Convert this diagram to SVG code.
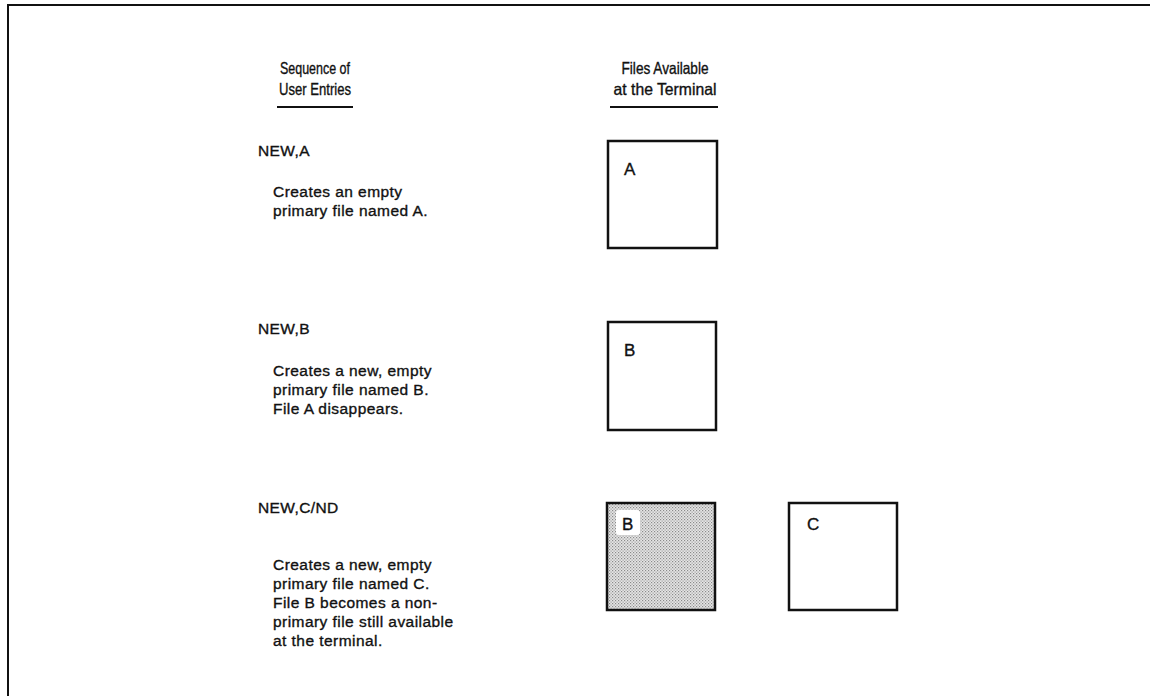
<svg xmlns="http://www.w3.org/2000/svg" width="1150" height="696" viewBox="0 0 1150 696">
<style>
text{font-family:"Liberation Sans",Arial,sans-serif;fill:#111;stroke:#111;stroke-width:0.35}
.hd{font-size:16.5px;text-anchor:middle}
.cmd{font-size:15.5px;letter-spacing:0.4px}
.desc{font-size:15.5px;letter-spacing:0.45px}
.lbl{font-size:17px}
.box{fill:#fff;stroke:#111;stroke-width:2.5}
.rule{stroke:#111;stroke-width:2;fill:none}
</style>
<defs>
<pattern id="stip" width="3" height="3" patternUnits="userSpaceOnUse">
<rect width="3" height="3" fill="#e6e6e6"/>
<rect x="0" y="0" width="1.2" height="1.2" fill="#8a8a8a"/>
<rect x="1.5" y="1.5" width="1.2" height="1.2" fill="#9a9a9a"/>
</pattern>
</defs>
<g id="frame">
<path class="rule" d="M8,696 V5 H1150"/>
</g>
<g id="headers">
<text class="hd" x="315" y="74" textLength="70" lengthAdjust="spacingAndGlyphs">Sequence of</text>
<text class="hd" x="315" y="95" textLength="72" lengthAdjust="spacingAndGlyphs">User Entries</text>
<line class="rule" x1="277" y1="107" x2="353" y2="107"/>
<text class="hd" x="665" y="74" textLength="87" lengthAdjust="spacingAndGlyphs">Files Available</text>
<text class="hd" x="665" y="95" textLength="103" lengthAdjust="spacingAndGlyphs">at the Terminal</text>
<line class="rule" x1="610" y1="107" x2="718" y2="107"/>
</g>
<g id="entry-a">
<text class="cmd" x="258" y="156">NEW,A</text>
<text class="desc" x="273" y="197">Creates an empty</text>
<text class="desc" x="273" y="216">primary file named A.</text>
</g>
<g id="box-a">
<rect class="box" x="608" y="141" width="109" height="107"/>
<text class="lbl" x="624" y="175">A</text>
</g>
<g id="entry-b">
<text class="cmd" x="258" y="334">NEW,B</text>
<text class="desc" x="273" y="376">Creates a new, empty</text>
<text class="desc" x="273" y="395">primary file named B.</text>
<text class="desc" x="273" y="414">File A disappears.</text>
</g>
<g id="box-b">
<rect class="box" x="608" y="322" width="108" height="108"/>
<text class="lbl" x="624" y="356">B</text>
</g>
<g id="entry-c">
<text class="cmd" x="258" y="513">NEW,C/ND</text>
<text class="desc" x="273" y="570">Creates a new, empty</text>
<text class="desc" x="273" y="589">primary file named C.</text>
<text class="desc" x="273" y="608">File B becomes a non-</text>
<text class="desc" x="273" y="627">primary file still available</text>
<text class="desc" x="273" y="646">at the terminal.</text>
</g>
<g id="box-b-nonprimary">
<rect x="607" y="503" width="108" height="107" fill="url(#stip)" stroke="#111" stroke-width="2.5"/>
<rect x="616" y="510" width="24" height="25" rx="3" fill="#fff"/>
<text class="lbl" x="622" y="530">B</text>
</g>
<g id="box-c">
<rect class="box" x="789" y="503" width="108" height="107"/>
<text class="lbl" x="807" y="530">C</text>
</g>
<g id="connectors"></g>
</svg>
